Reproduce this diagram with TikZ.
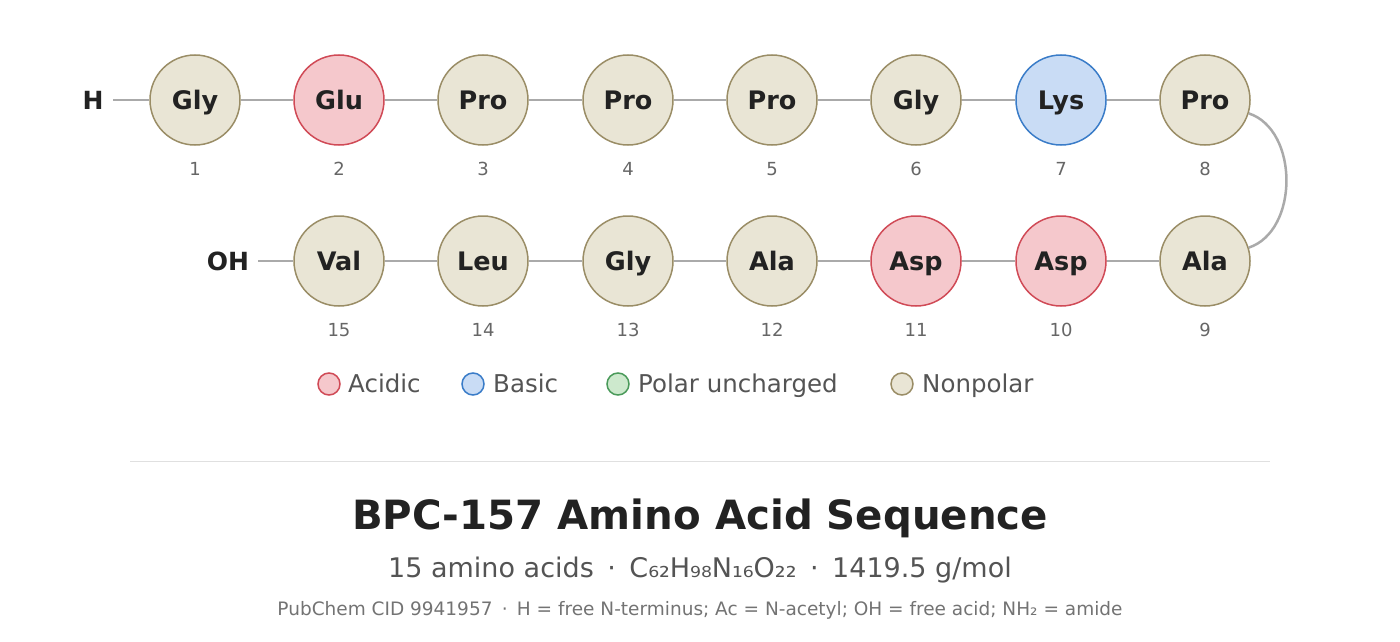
\documentclass[tikz,border=0pt]{standalone}
\usepackage{fontspec}
\setmainfont{DejaVu Sans}
\definecolor{npfill}{HTML}{E9E5D5}
\definecolor{npline}{HTML}{9A8D66}
\definecolor{acfill}{HTML}{F5C8CC}
\definecolor{acline}{HTML}{D04A56}
\definecolor{bafill}{HTML}{C9DCF5}
\definecolor{baline}{HTML}{3A7CC8}
\definecolor{pofill}{HTML}{CDE9CD}
\definecolor{poline}{HTML}{4A9A5A}
\definecolor{bond}{HTML}{AAAAAA}
\definecolor{ink}{HTML}{222222}
\tikzset{
  capc/.style={text height=#1, text depth=0pt},
  res/.style={circle, minimum size=90pt, inner sep=0pt, line width=1.5pt, text=ink,
    font=\bfseries\fontsize{25.5}{25.5}\selectfont, capc=18.6pt},
  nonpolar/.style={res, fill=npfill, draw=npline},
  acidic/.style={res, fill=acfill, draw=acline},
  basic/.style={res, fill=bafill, draw=baline},
  num/.style={text=black!60, font=\fontsize{18}{18}\selectfont, capc=13.1pt},
  term/.style={text=ink, font=\bfseries\fontsize{25}{25}\selectfont, inner sep=2pt, capc=18.25pt},
  bondline/.style={draw=bond, line width=2.5pt},
  legdot/.style={circle, minimum size=22pt, inner sep=0pt, line width=1.5pt},
  legtext/.style={anchor=west, text=black!67, font=\fontsize{24.5}{24.5}\selectfont, inner sep=0pt, capc=17.9pt},
}
\begin{document}
\begin{tikzpicture}[x=1pt,y=-1pt]
\useasboundingbox (0,0) rectangle (1400,642);
% row 1
\node[nonpolar] (r1) at (195,100) {Gly};
\node[acidic]   (r2) at (339,100) {Glu};
\node[nonpolar] (r3) at (483,100) {Pro};
\node[nonpolar] (r4) at (628,100) {Pro};
\node[nonpolar] (r5) at (772,100) {Pro};
\node[nonpolar] (r6) at (916,100) {Gly};
\node[basic]    (r7) at (1061,100) {Lys};
\node[nonpolar] (r8) at (1205,100) {Pro};
% row 2
\node[nonpolar] (r9)  at (1205,261) {Ala};
\node[acidic]   (r10) at (1061,261) {Asp};
\node[acidic]   (r11) at (916,261) {Asp};
\node[nonpolar] (r12) at (772,261) {Ala};
\node[nonpolar] (r13) at (628,261) {Gly};
\node[nonpolar] (r14) at (483,261) {Leu};
\node[nonpolar] (r15) at (339,261) {Val};
% numbers
\foreach \i in {1,...,15} {
  \node[num] (n\i) at ([yshift=-69pt]r\i.center) {\i};
}
% termini
\node[term] (H) at (93,100) {H};
\node[term] (OH) at (228,261) {OH};
\coordinate (Hend) at (113,100);
\coordinate (OHend) at (258,261);
% bonds
\draw[bondline] (Hend) -- (r1);
\draw[bondline] (r1) -- (r2);
\draw[bondline] (r2) -- (r3);
\draw[bondline] (r3) -- (r4);
\draw[bondline] (r4) -- (r5);
\draw[bondline] (r5) -- (r6);
\draw[bondline] (r6) -- (r7);
\draw[bondline] (r7) -- (r8);
\draw[bondline] (r8.-17) .. controls (1299,130) and (1299,231) .. (r9.17);
\draw[bondline] (r9) -- (r10);
\draw[bondline] (r10) -- (r11);
\draw[bondline] (r11) -- (r12);
\draw[bondline] (r12) -- (r13);
\draw[bondline] (r13) -- (r14);
\draw[bondline] (r14) -- (r15);
\draw[bondline] (r15) -- (OHend);
% legend
\node[legdot, fill=acfill, draw=acline] (la) at (329,384) {};
\node[legtext] (lat) at (348,384) {Acidic};
\node[legdot, fill=bafill, draw=baline] (lb) at (473,384) {};
\node[legtext] (lbt) at (493,384) {Basic};
\node[legdot, fill=pofill, draw=poline] (lp) at (618,384) {};
\node[legtext] (lpt) at (638,384) {Polar uncharged};
\node[legdot, fill=npfill, draw=npline] (ln) at (902,384) {};
\node[legtext] (lnt) at (922,384) {Nonpolar};
% separator
\coordinate (s1) at (130,461);
\coordinate (s2) at (1270,461);
\draw[draw=black!12, line width=1pt] (s1) -- (s2);
% titles
\node[text=ink, font=\bfseries\fontsize{40.3}{40.3}\selectfont, capc=29.4pt] (title) at (700,515) {BPC-157 Amino Acid Sequence};
\node[text=black!67, font=\fontsize{27}{27}\selectfont, capc=19.7pt] (sub) at (700,568) {15 amino acids\enspace·\enspace C₆₂H₉₈N₁₆O₂₂\enspace·\enspace 1419.5 g/mol};
\node[text=black!55, font=\fontsize{18.5}{18.5}\selectfont, capc=13.5pt] (foot) at (700,609) {PubChem CID 9941957\enspace·\enspace H = free N-terminus; Ac = N-acetyl; OH = free acid; NH₂ = amide};
\end{tikzpicture}
\end{document}
